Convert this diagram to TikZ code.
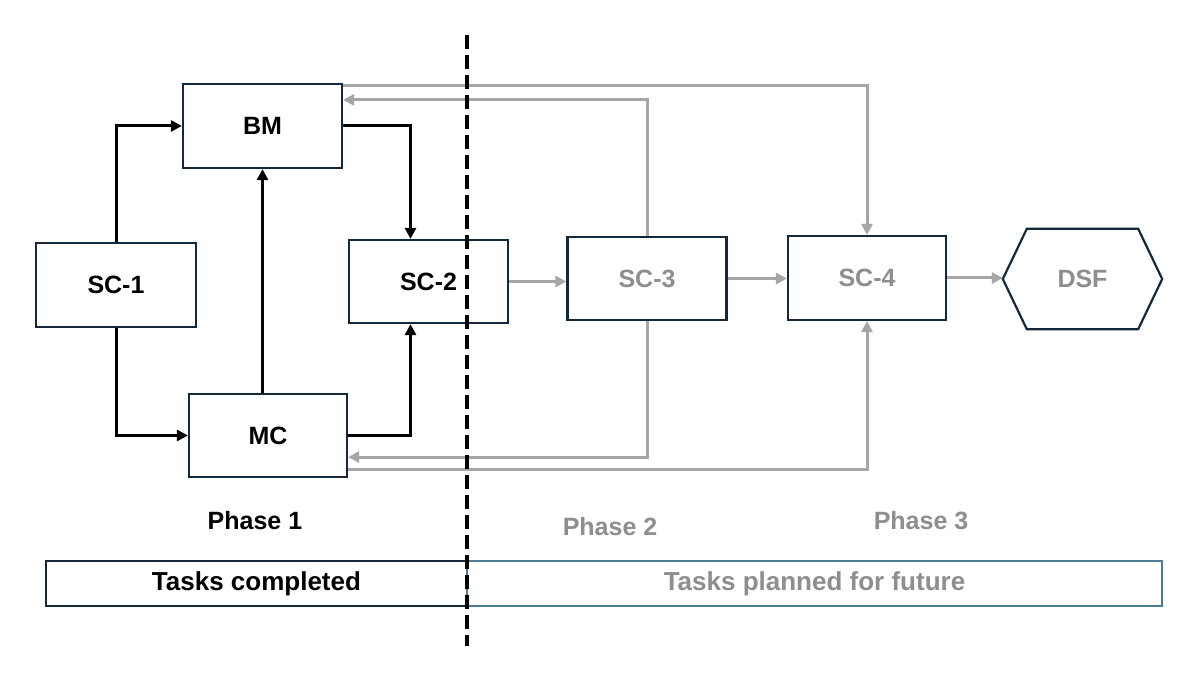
\documentclass[tikz,border=0pt]{standalone}
\usepackage{fontspec}
\setmainfont{Liberation Sans}
\usetikzlibrary{arrows.meta,calc}
\definecolor{boxborder}{HTML}{13283A}
\definecolor{futborder}{HTML}{4A7C96}
\definecolor{gtext}{HTML}{8E8E8E}
\definecolor{gline}{HTML}{A6A6A6}
\begin{document}
\begin{tikzpicture}[x=1pt,y=-1pt,
  box/.style={draw=boxborder, line width=2.2pt, fill=white, inner sep=0pt,
    minimum width=159pt, minimum height=83pt,
    font=\fontsize{25}{30}\selectfont\bfseries},
  blk/.style={draw=black, line width=3pt, -{Triangle[length=11pt,width=11pt]}},
  gry/.style={draw=gline, line width=3pt, -{Triangle[length=11pt,width=11pt]}},
  phase/.style={font=\fontsize{25}{30}\selectfont\bfseries, inner sep=0pt},
  taskbox/.style={draw, line width=1.4pt, inner sep=0pt, minimum height=45pt,
    font=\fontsize{26}{30}\selectfont\bfseries}
]
\useasboundingbox[fill=white] (0,0) rectangle (1200,684);

% nodes
\node[box, minimum width=159pt, minimum height=84pt] (bm) at (262.5,126) {BM};
\node[box, minimum width=160pt, minimum height=84pt] (sc1) at (116,285) {SC-1};
\node[box] (sc2) at (428.5,281.5) {SC-2};
\node[box, minimum width=158pt] (mc) at (268,435.5) {MC};
\node[box, text=gtext] (sc3) at (647,278.5) {SC-3};
\node[box, minimum width=158pt, minimum height=84pt, text=gtext] (sc4) at (867,278) {SC-4};
\node[phase, text=gtext, minimum width=159pt, minimum height=100pt] (dsf) at (1082.5,279) {DSF};
\draw[boxborder, line width=2.2pt, line join=miter]
  (dsf.west) -- ($(dsf.north west)+(24,0)$) -- ($(dsf.north east)+(-24,0)$)
  -- (dsf.east) -- ($(dsf.south east)+(-24,0)$) -- ($(dsf.south west)+(24,0)$) -- cycle;

% black connectors
\draw[blk] (sc1.north) |- (bm.west);
\draw[blk] (sc1.south) |- (mc.west);
\draw[blk] (mc.north -| bm.south) -- (bm.south);
\draw[blk] (bm.east) -| ($(sc2.north)+(-18,0)$);
\draw[blk] (mc.east) -| ($(sc2.south)+(-18,0)$);

% gray connectors
\draw[gry] (sc2.east) -- (sc2.east -| sc3.west);
\draw[gry] (sc3.east) -- (sc3.east -| sc4.west);
\draw[gry] (sc4.east) -- (sc4.east -| dsf.west);
\draw[gry] ($(bm.north east)+(0,3)$) -| (sc4.north);
\draw[gry] (sc3.north) |- ($(bm.north east)+(0,17)$);
\draw[gry] (sc3.south) |- ($(mc.south east)+(0,-21)$);
\draw[gry] ($(mc.south east)+(0,-9)$) -| (sc4.south);

% phases
\node[phase] (p1) at (255,521) {Phase 1};
\node[phase, text=gtext] (p2) at (610,527) {Phase 2};
\node[phase, text=gtext] (p3) at (921,521) {Phase 3};

% task boxes
\node[taskbox, draw=boxborder, minimum width=421pt] (done) at (256.5,583.5) {Tasks completed};
\node[taskbox, draw=futborder, text=gtext, minimum width=695pt] (future) at (814.5,583.5) {Tasks planned for future};

% divider
\coordinate (dtop) at (467,35);
\coordinate (dbot) at (467,646);
\draw[black, line width=3.6pt, dash pattern=on 14pt off 6pt] (dtop) -- (dbot);
\end{tikzpicture}
\end{document}
